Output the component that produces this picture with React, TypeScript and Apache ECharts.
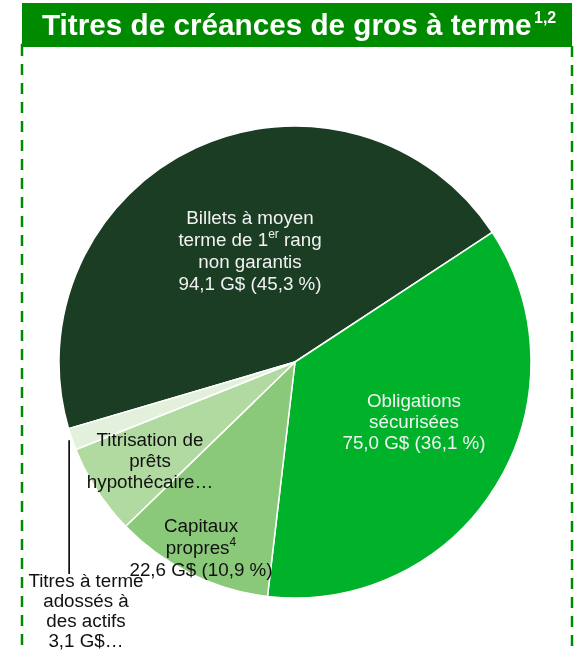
import React, { useEffect, useRef } from "react";
import * as echarts from "echarts";

const TITLE = "Titres de créances de gros à terme";
const TITLE_SUP = "1,2";
const CATEGORIES = [
  "Billets à moyen terme de 1er rang non garantis",
  "Obligations sécurisées",
  "Capitaux propres",
  "Titrisation de prêts hypothécaires",
  "Titres à terme adossés à des actifs",
];
const VALUES = [94.1, 75.0, 22.6, 12.9, 3.1];
const LABEL_TEXTS = [
  "Billets à moyen\nterme de 1{sup|er} rang\nnon garantis\n94,1 G$ (45,3 %)",
  "Obligations\nsécurisées\n75,0 G$ (36,1 %)",
  "Capitaux\npropres{sup|4}\n22,6 G$ (10,9 %)",
  "Titrisation de\nprêts\nhypothécaire…",
  "Titres à terme\nadossés à\ndes actifs\n3,1 G$…",
];
const COLORS = ["#1a3d24", "#00b22a", "#8bc97a", "#b0daa0", "#e3f1dc"];
const LABEL_COLORS = ["#f2f2f2", "#f2f2f2", "#111111", "#111111", "#111111"];
const LABEL_POS: [number, number][] = [
  [250, 250],
  [414, 421],
  [201, 547],
  [150, 460],
  [86, 610],
];
const LABEL_LINE_H = [22, 21, 22, 21, 20];

const CX = 295;
const CY = 362;
const R = 236;
const START_ANGLE = 196.4;
const GREEN = "#008a00";
const FONT = "'Liberation Sans', Arial, sans-serif";

export default function App() {
  const ref = useRef<HTMLDivElement>(null);
  useEffect(() => {
    if (!ref.current) return;
    const chart = echarts.init(ref.current, undefined, { renderer: "svg" });
    const total = VALUES.reduce((a, b) => a + b, 0);
    let acc = 0;
    for (let i = 0; i < VALUES.length - 1; i++) acc += VALUES[i];
    const lastMid = START_ANGLE - ((acc + VALUES[VALUES.length - 1] / 2) / total) * 360;
    const rad = (lastMid * Math.PI) / 180;
    const lx = CX + (R + 3) * Math.cos(rad);
    const ly = CY - (R + 3) * Math.sin(rad);

    chart.setOption({
      animation: false,
      textStyle: { fontFamily: FONT },
      graphic: [
        {
          type: "rect",
          z: 1,
          shape: { x: 22, y: 45, width: 550, height: 700 },
          style: { fill: "none", stroke: GREEN, lineWidth: 2.5, lineDash: [11, 8] },
        },
        {
          type: "rect",
          z: 2,
          shape: { x: 22, y: 3, width: 550, height: 44 },
          style: { fill: GREEN },
        },
        {
          type: "text",
          z: 3,
          x: 42,
          y: 24,
          style: {
            text: TITLE,
            fill: "#ffffff",
            font: `bold 29.7px ${FONT}`,
            textAlign: "left",
            textVerticalAlign: "middle",
          },
        },
        {
          type: "text",
          z: 3,
          x: 534,
          y: 17,
          style: {
            text: TITLE_SUP,
            fill: "#ffffff",
            font: `bold 16px ${FONT}`,
            textAlign: "left",
            textVerticalAlign: "middle",
          },
        },
        {
          type: "line",
          z: 5,
          shape: { x1: lx, y1: ly, x2: lx, y2: 574 },
          style: { stroke: "#000000", lineWidth: 1.6 },
        },
      ],
      series: [
        {
          type: "pie",
          center: [CX, CY],
          radius: [0, R],
          startAngle: START_ANGLE,
          clockwise: true,
          avoidLabelOverlap: false,
          itemStyle: { borderColor: "#ffffff", borderWidth: 1.5 },
          emphasis: { disabled: true },
          label: {
            show: true,
            position: "inside",
            rotate: 0,
            fontSize: 18.8,
            fontFamily: FONT,
            align: "center",
            formatter: (p: any) => LABEL_TEXTS[p.dataIndex],
            rich: {
              sup: {
                fontSize: 12,
                fontFamily: FONT,
                lineHeight: 14,
                verticalAlign: "top",
              },
            },
          },
          labelLine: { show: false },
          labelLayout: (p: any) => ({
            x: LABEL_POS[p.dataIndex][0],
            y: LABEL_POS[p.dataIndex][1],
            align: "center",
            verticalAlign: "middle",
          }),
          data: CATEGORIES.map((name, i) => ({
            name,
            value: VALUES[i],
            itemStyle: { color: COLORS[i] },
            label: { color: LABEL_COLORS[i], lineHeight: LABEL_LINE_H[i] },
          })),
        },
      ],
    });
    return () => chart.dispose();
  }, []);
  return (
    <div
      ref={ref}
      style={{ position: "fixed", left: 0, top: 0, width: 575, height: 653 }}
    />
  );
}
